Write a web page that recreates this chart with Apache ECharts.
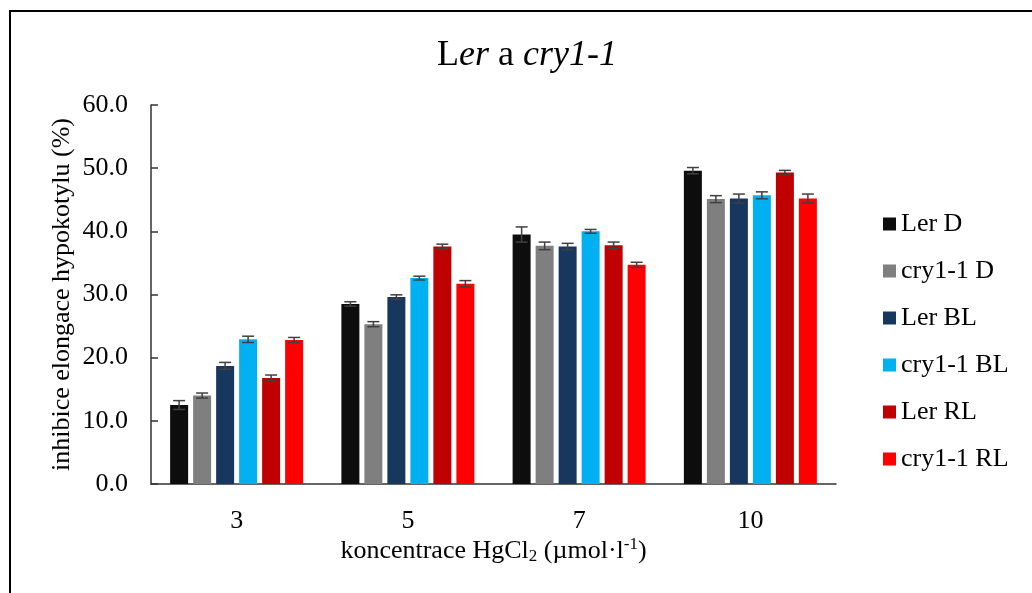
<!DOCTYPE html>
<html style="height: 100%">

<head>
  <meta charset="utf-8">
</head>

<body style="height: 100%; margin: 0; background: #fff">
  <div id="container" style="width: 1032px; height: 593px"></div>
  <script type="text/javascript" src="https://cdn.jsdelivr.net/npm/echarts@6/dist/echarts.min.js"></script>
  <script type="text/javascript">
    // koncentrace HgCl2 (umol/l)
    var categories = ['3', '5', '7', '10'];
    var seriesNames = ['Ler D', 'cry1-1 D', 'Ler BL', 'cry1-1 BL', 'Ler RL', 'cry1-1 RL'];

    // inhibice elongace hypokotylu (%)
    var lerD = [12.5, 28.5, 39.5, 49.6];
    var cryD = [14.0, 25.3, 37.7, 45.1];
    var lerBL = [18.7, 29.6, 37.6, 45.2];
    var cryBL = [22.9, 32.6, 40.0, 45.7];
    var lerRL = [16.8, 37.6, 37.8, 49.3];
    var cryRL = [22.8, 31.7, 34.7, 45.2];

    // smerodatne odchylky
    var lerDErr = [0.7, 0.35, 1.2, 0.5];
    var cryDErr = [0.4, 0.4, 0.6, 0.55];
    var lerBLErr = [0.55, 0.35, 0.5, 0.7];
    var cryBLErr = [0.5, 0.3, 0.3, 0.55];
    var lerRLErr = [0.45, 0.37, 0.5, 0.35];
    var cryRLErr = [0.4, 0.5, 0.4, 0.7];

    var yTicks = { min: 0, max: 60, interval: 10 };

    var values = [lerD, cryD, lerBL, cryBL, lerRL, cryRL];
    var errors = [lerDErr, cryDErr, lerBLErr, cryBLErr, lerRLErr, cryRLErr];
    var colors = ['#0d0d0d', '#7f7f7f', '#17375e', '#00b0f0', '#c00000', '#ff0000'];

    var FONT = "'Liberation Serif', 'Times New Roman', serif";
    var BAR_W = 18;
    var BAR_GAP = 5;

    var dom = document.getElementById("container");
    var myChart = echarts.init(dom);

    var series = [];
    seriesNames.forEach(function (name, i) {
      series.push({
        name: name,
        type: 'bar',
        data: values[i],
        barWidth: BAR_W,
        barGap: (BAR_GAP / BAR_W * 100) + '%',
        itemStyle: { color: colors[i] }
      });
    });
    // chybove useky
    seriesNames.forEach(function (name, i) {
      var shift = (i - 2.5) * (BAR_W + BAR_GAP);
      series.push({
        type: 'custom',
        silent: true,
        z: 5,
        data: values[i].map(function (v, k) {
          return [k, v - errors[i][k], v + errors[i][k]];
        }),
        renderItem: function (params, api) {
          var lo = api.coord([api.value(0), api.value(1)]);
          var hi = api.coord([api.value(0), api.value(2)]);
          var x = lo[0] + shift;
          var cap = 6;
          var st = { stroke: '#404040', lineWidth: 1.5 };
          return {
            type: 'group',
            children: [
              { type: 'line', shape: { x1: x, y1: lo[1], x2: x, y2: hi[1] }, style: st },
              { type: 'line', shape: { x1: x - cap, y1: lo[1], x2: x + cap, y2: lo[1] }, style: st },
              { type: 'line', shape: { x1: x - cap, y1: hi[1], x2: x + cap, y2: hi[1] }, style: st }
            ]
          };
        }
      });
    });

    var option = {
      animation: false,
      backgroundColor: '#fff',
      textStyle: { fontFamily: FONT, color: '#000' },
      title: {
        text: '{n|L}{i|er}{n| a }{i|cry1-1}',
        left: 432,
        top: 33,
        textStyle: {
          fontWeight: 'normal',
          rich: {
            n: { fontFamily: FONT, fontSize: 36, fontWeight: 'normal', color: '#000' },
            i: { fontFamily: FONT, fontSize: 36, fontWeight: 'normal', fontStyle: 'italic', color: '#000' }
          }
        }
      },
      legend: {
        orient: 'vertical',
        left: 878,
        top: 206,
        itemWidth: 13,
        itemHeight: 13,
        itemGap: 21,
        icon: 'rect',
        data: seriesNames,
        textStyle: { fontFamily: FONT, fontSize: 26, color: '#000', lineHeight: 26 }
      },
      graphic: [{
        type: 'rect',
        silent: true,
        shape: { x: 10, y: 11, width: 1100, height: 700 },
        style: { fill: 'none', stroke: '#000', lineWidth: 2 }
      }],
      grid: { left: 151, right: 196, top: 105, bottom: 109 },
      xAxis: {
        type: 'category',
        data: categories,
        name: '{a|koncentrace HgCl}{sub|2}{a| (µmol·l}{sup|-1}{a|)}',
        nameLocation: 'middle',
        nameGap: 52,
        nameMoveOverlap: false,
        nameTextStyle: {
          rich: {
            a: { fontFamily: FONT, fontSize: 26, color: '#000', lineHeight: 30 },
            sub: { fontFamily: FONT, fontSize: 17, color: '#000', lineHeight: 30, padding: [12, 0, 0, 0] },
            sup: { fontFamily: FONT, fontSize: 17, color: '#000', lineHeight: 30, padding: [0, 0, 12, 0] }
          }
        },
        axisLine: { lineStyle: { color: '#333', width: 1.5 } },
        axisTick: { inside: true, length: 7, lineStyle: { color: '#333', width: 1.5 } },
        axisLabel: { fontFamily: FONT, fontSize: 26, color: '#000', margin: 24 }
      },
      yAxis: {
        type: 'value',
        min: yTicks.min,
        max: yTicks.max,
        interval: yTicks.interval,
        name: 'inhibice elongace hypokotylu (%)',
        nameLocation: 'middle',
        nameGap: 76,
        nameMoveOverlap: false,
        nameTextStyle: { fontFamily: FONT, fontSize: 26, color: '#000' },
        splitLine: { show: false },
        axisLine: { show: true, lineStyle: { color: '#333', width: 1.5 } },
        axisTick: { show: true, inside: true, length: 7, lineStyle: { color: '#333', width: 1.5 } },
        axisLabel: {
          fontFamily: FONT, fontSize: 26, color: '#000', margin: 23,
          formatter: function (v) { return v.toFixed(1); }
        }
      },
      series: series
    };
    myChart.setOption(option);
  </script>
</body>

</html>
